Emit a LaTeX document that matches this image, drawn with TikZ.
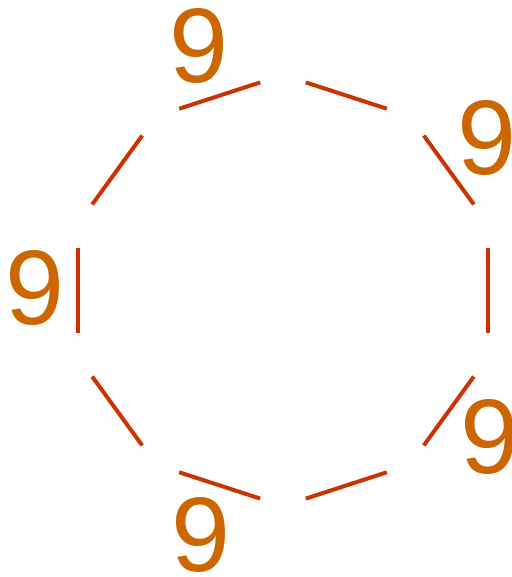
\documentclass[tikz,border=0pt]{standalone}
\usepackage{fontspec}
\setmainfont{Liberation Sans}
\definecolor{edgecol}{HTML}{CC3300}
\definecolor{labcol}{HTML}{CC6600}
\begin{document}
\begin{tikzpicture}[x=1pt,y=-1pt,
  side/.style={draw=edgecol,line width=4pt,shorten >=24pt,shorten <=24pt},
  lab/.style={text=labcol,inner sep=0pt,font=\fontsize{106}{106}\selectfont}]
\useasboundingbox (0,0) rectangle (511,577);
% decagon vertices (center 283,290.5; R 215.5)
\foreach \i/\a in {0/90,1/54,2/18,3/-18,4/-54,5/-90,6/-126,7/-162,8/162,9/126}{
  \coordinate (v\i) at ({283+215.5*cos(\a)},{290.5-215.5*sin(\a)});
}
\draw[side] (v9) -- (v0);
\draw[side] (v0) -- (v1);
\draw[side] (v1) -- (v2);
\draw[side] (v2) -- (v3);
\draw[side] (v3) -- (v4);
\draw[side] (v4) -- (v5);
\draw[side] (v5) -- (v6);
\draw[side] (v6) -- (v7);
\draw[side] (v7) -- (v8);
\draw[side] (v8) -- (v9);
\node[lab] (l1) at (199,46) {9};
\node[lab] (l2) at (487,138.5) {9};
\node[lab] (l3) at (35,288) {9};
\node[lab] (l4) at (490,437.5) {9};
\node[lab] (l5) at (201,535) {9};
\end{tikzpicture}
\end{document}
